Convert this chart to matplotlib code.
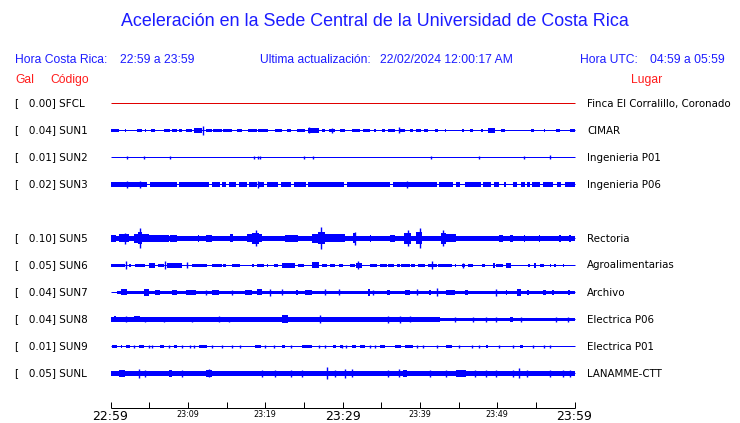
import matplotlib
matplotlib.use('Agg')
import matplotlib.pyplot as plt

# Station table
stations = ['SFCL', 'SUN1', 'SUN2', 'SUN3', 'SUN5', 'SUN6', 'SUN7', 'SUN8', 'SUN9', 'SUNL']
gal = [0.00, 0.04, 0.01, 0.02, 0.10, 0.05, 0.04, 0.04, 0.01, 0.05]
places = ['Finca El Corralillo, Coronado', 'CIMAR', 'Ingenieria P01', 'Ingenieria P06',
          'Rectoria', 'Agroalimentarias', 'Archivo', 'Electrica P06', 'Electrica P01', 'LANAMME-CTT']
slots = [0, 1, 2, 3, 5, 6, 7, 8, 9, 10]   # row slot (SUN4 missing)

# Time axis (minutes after 22:59)
tick_minutes = list(range(0, 61, 5))
label_minutes = [0, 10, 20, 30, 40, 50, 60]
label_text = ['22:59', '23:09', '23:19', '23:29', '23:39', '23:49', '23:59']

# Trace envelopes: (start min, end min, half amplitude)
base_amp = {'SUN5': 2.6, 'SUN7': 1.5, 'SUNL': 2.7}

sun1_bursts = [(0, 1.1, 1.8), (1.9, 2.0, 1.5), (3.4, 4.1, 1.8), (4.5, 4.6, 1.5), (5.2, 5.8, 1.8),
               (6.9, 7.7, 1.6), (8.0, 8.6, 1.8), (8.8, 9.2, 1.5), (9.7, 10.6, 1.9), (10.8, 11.8, 2.1),
               (12.3, 13.1, 1.8), (13.3, 14.4, 1.9), (14.6, 15.7, 1.7), (16.3, 17.0, 1.8),
               (17.8, 18.9, 1.6), (19.1, 20.4, 1.8), (21.3, 22.2, 1.6), (22.8, 23.4, 1.5),
               (24.1, 25.2, 1.6), (25.6, 26.9, 2.1), (27.3, 27.7, 1.5), (28.2, 29.0, 1.8),
               (29.7, 30.3, 1.8), (31.2, 32.3, 1.8), (32.7, 33.6, 1.8), (34.1, 34.3, 1.5),
               (35.1, 35.5, 1.6), (35.9, 36.8, 1.8), (37.4, 38.1, 1.8), (38.7, 39.1, 1.5),
               (39.5, 40.2, 1.9), (40.6, 41.1, 1.8), (41.9, 42.4, 1.6), (43.2, 43.4, 1.8),
               (45.5, 45.7, 1.5), (46.5, 46.9, 1.6), (47.9, 48.2, 1.5), (48.8, 49.7, 2.1),
               (50.5, 51.0, 1.8), (54.4, 54.8, 1.6), (56.0, 56.2, 1.5), (57.6, 58.1, 1.8),
               (59.4, 60.0, 1.8)]
sun1_spikes = [(11.9, 4.5), (25.7, 3.0), (28.6, 2.5), (37.3, 3.0)]

sun2_bursts = []
sun2_spikes = [(2.15, 1.5), (4.3, 1.5), (7.74, 1.5), (18.6, 1.5), (19.1, 1.5), (19.35, 1.5),
               (25.0, 1.5), (26.2, 1.5), (41.4, 1.5), (47.7, 1.5), (53.5, 1.5), (56.8, 2.0)]

sun3_bursts = [(0, 4.73, 2.1), (5.16, 8.6, 2.1), (8.9, 12.7, 2.1), (13.1, 14.2, 2.1),
               (14.4, 14.9, 2.1), (15.3, 16.2, 2.1), (16.6, 17.6, 2.1), (17.85, 18.9, 2.1),
               (19.1, 19.9, 2.1), (20.2, 21.7, 2.1), (22.0, 23.4, 2.1), (23.7, 25.3, 2.1),
               (25.6, 30.2, 2.1), (30.54, 36.1, 2.1), (36.5, 42.2, 2.1), (42.5, 44.3, 2.1),
               (44.7, 45.25, 2.1), (45.9, 47.96, 2.1), (48.2, 49.25, 2.1), (49.55, 50.3, 2.1),
               (50.85, 51.2, 2.1), (52.05, 52.5, 2.1), (53.1, 53.55, 2.1), (53.8, 54.2, 2.1),
               (54.55, 55.5, 2.1), (55.9, 57.2, 2.1), (57.7, 58.3, 2.1), (58.8, 60.0, 2.1)]
sun3_spikes = [(2.15, 3.2), (3.8, 3.2), (19.1, 3.2), (38.4, 3.2)]

sun5_bursts = [(0.0, 0.65, 3.2), (1.1, 2.4, 4.0), (3.0, 3.5, 4.5), (3.5, 4.1, 6.0), (4.1, 4.95, 4.0),
               (4.95, 7.5, 3.5), (7.7, 8.6, 3.2), (11.3, 11.5, 3.2), (12.3, 13.1, 3.2),
               (15.5, 15.9, 4.0), (17.6, 18.3, 4.0), (18.3, 19.2, 5.5), (19.2, 19.6, 4.0),
               (22.6, 24.3, 3.5), (26.0, 26.8, 4.5), (26.8, 27.7, 6.0),
               (27.7, 30.3, 4.0), (31.4, 31.8, 5.0), (33.5, 33.7, 3.2), (36.1, 36.8, 3.5),
               (38.0, 38.9, 5.5), (39.5, 40.3, 6.0), (42.8, 43.4, 5.5), (43.4, 44.7, 4.0),
               (50.3, 50.75, 3.5), (51.6, 52.05, 3.2), (53.5, 53.6, 3.2), (55.4, 55.6, 3.2),
               (58.0, 58.2, 3.2), (59.3, 59.5, 3.5)]
sun5_spikes = [(1.9, 5.5), (3.8, 10.0), (18.8, 8.0), (27.2, 11.0), (31.6, 6.5),
               (38.5, 8.0), (40.0, 10.0), (43.0, 8.0)]

sun6_bursts = [(0, 1.9, 1.7), (2.4, 2.7, 1.7), (3.2, 4.5, 1.7), (5.0, 5.8, 2.2), (6.2, 6.9, 1.7),
               (7.3, 9.25, 2.2), (10.5, 12.5, 1.7), (13.1, 14.4, 1.7), (14.6, 14.9, 1.7),
               (15.7, 16.8, 1.7), (18.3, 18.5, 1.7), (18.9, 19.8, 1.7), (20.2, 20.4, 1.7),
               (21.1, 21.7, 1.7), (22.2, 23.9, 2.2), (24.3, 25.0, 1.7), (26.0, 26.9, 3.0),
               (27.3, 28.0, 1.7), (28.4, 29.0, 1.7), (29.5, 30.1, 1.7), (31.0, 31.6, 1.7),
               (31.8, 32.5, 2.2), (33.5, 34.4, 1.7), (34.8, 35.7, 1.7), (35.9, 36.6, 1.7),
               (37.0, 37.4, 1.7), (37.6, 38.7, 1.7), (38.9, 39.4, 1.7), (39.7, 40.65, 1.7),
               (41.1, 42.2, 1.7), (42.4, 44.1, 1.7), (44.5, 44.7, 1.7), (45.4, 45.8, 1.7),
               (46.2, 46.9, 1.7), (48.0, 48.4, 1.7), (49.4, 49.7, 2.5), (49.9, 50.75, 1.7),
               (51.2, 51.8, 2.5), (54.0, 54.2, 1.7), (54.8, 55.05, 2.2), (55.5, 56.1, 1.7),
               (56.8, 57.0, 1.7), (57.4, 57.6, 1.7), (58.5, 58.7, 1.7)]
sun6_spikes = [(2.06, 4.0), (7.1, 4.0), (9.85, 3.0), (32.05, 4.0), (41.6, 4.0), (45.6, 2.5)]

sun7_bursts = [(1.3, 2.15, 3.0), (4.3, 4.95, 3.5), (5.8, 6.45, 2.2), (8.0, 8.6, 2.2),
               (9.7, 11.0, 2.2), (13.1, 14.0, 2.2), (17.4, 18.3, 2.2), (18.9, 19.6, 3.0),
               (24.0, 24.2, 2.2), (25.2, 26.0, 2.2), (33.3, 33.55, 3.5), (35.7, 36.1, 2.5),
               (38.1, 38.7, 2.2), (41.2, 41.4, 2.2), (43.4, 44.5, 2.2), (45.8, 46.2, 2.5),
               (51.1, 51.3, 2.2), (52.5, 53.1, 3.5), (53.9, 54.1, 2.2), (55.9, 56.35, 2.2),
               (57.1, 57.3, 2.2), (59.1, 59.4, 2.5)]
sun7_spikes = [(12.3, 2.2), (15.7, 2.5), (20.6, 3.5), (22.2, 3.0), (27.7, 3.0), (29.5, 3.0),
               (34.0, 2.5), (39.6, 3.0), (42.2, 4.0), (49.9, 3.5)]

sun8_bursts = [(0, 42.6, 2.4), (42.6, 53.8, 1.5), (53.8, 60.0, 1.9), (0.43, 0.65, 3.0),
               (3.0, 3.87, 3.0), (9.0, 9.46, 2.8), (12.3, 12.7, 2.8), (22.2, 23.0, 4.0),
               (35.5, 40.0, 2.8), (40.9, 41.7, 2.8), (51.6, 52.05, 2.5)]
sun8_spikes = [(1.94, 3.0), (4.5, 2.8), (6.9, 2.8), (10.5, 2.8), (14.0, 3.0), (15.3, 2.8),
               (27.1, 4.0), (35.9, 3.5), (37.4, 3.5), (38.7, 3.0), (44.5, 2.5), (46.9, 2.5),
               (48.6, 2.5), (49.9, 2.5), (53.1, 2.5), (57.6, 2.5), (59.1, 2.5)]

sun9_bursts = [(0.2, 0.86, 1.4), (1.3, 1.5, 1.4), (1.94, 2.58, 1.4), (3.66, 4.3, 1.4),
               (6.45, 6.9, 1.4), (8.17, 8.6, 1.4), (11.4, 12.5, 1.4), (18.7, 19.4, 1.4),
               (22.2, 22.6, 1.4), (24.7, 26.0, 1.4), (28.8, 29.2, 1.4), (29.7, 30.1, 1.4),
               (31.2, 31.8, 1.4), (32.3, 32.9, 1.4), (34.8, 35.5, 1.4), (36.8, 37.6, 1.4),
               (38.1, 39.1, 1.4), (43.4, 44.1, 1.4), (48.6, 48.8, 1.4), (52.9, 53.3, 1.4)]
sun9_spikes = [(3.0, 1.4), (4.95, 1.4), (5.4, 1.4), (7.53, 1.4), (9.25, 1.4), (10.3, 1.4),
               (10.75, 1.4), (13.1, 1.4), (14.4, 1.4), (15.7, 1.4), (16.8, 1.4), (20.0, 1.4),
               (21.1, 1.4), (23.4, 1.4), (26.9, 1.4), (27.7, 1.4), (29.9, 1.4), (30.5, 1.4),
               (33.55, 1.4), (34.2, 1.4), (39.6, 1.4), (40.4, 1.4), (42.2, 1.4), (45.0, 1.4),
               (46.7, 1.4), (47.7, 1.4), (50.3, 1.4), (52.05, 1.4), (54.6, 1.4), (56.1, 1.4),
               (56.8, 1.4)]

sunl_bursts = [(1.1, 1.9, 3.2), (7.5, 8.0, 3.2), (12.3, 13.1, 3.5), (37.85, 38.3, 3.2),
               (44.7, 46.0, 3.2)]
sunl_spikes = [(3.66, 4.5), (4.5, 3.2), (9.25, 3.2), (12.8, 4.0), (19.6, 3.2), (21.3, 3.2),
               (23.4, 3.2), (24.7, 3.5), (28.0, 6.0), (29.0, 3.2), (30.3, 4.5), (31.2, 4.0),
               (35.9, 3.2), (37.3, 4.0), (41.3, 3.2), (43.4, 3.2), (47.1, 3.2), (48.6, 3.2),
               (49.9, 3.2), (52.05, 3.2), (52.8, 5.0), (53.8, 3.2), (56.8, 3.2), (58.5, 3.2),
               (59.4, 3.2)]

bursts = {'SUN1': sun1_bursts, 'SUN2': sun2_bursts, 'SUN3': sun3_bursts, 'SUN5': sun5_bursts,
          'SUN6': sun6_bursts, 'SUN7': sun7_bursts, 'SUN8': sun8_bursts, 'SUN9': sun9_bursts,
          'SUNL': sunl_bursts}
spikes = {'SUN1': sun1_spikes, 'SUN2': sun2_spikes, 'SUN3': sun3_spikes, 'SUN5': sun5_spikes,
          'SUN6': sun6_spikes, 'SUN7': sun7_spikes, 'SUN8': sun8_spikes, 'SUN9': sun9_spikes,
          'SUNL': sunl_spikes}

W, H = 740, 423
BLUE = '#0000ff'
TXT_BLUE = '#1c1cff'
TXT_RED = '#ff1c1c'


def px(x, y):
    return x / W, 1 - y / H


fig = plt.figure(figsize=(W / 100, H / 100), dpi=100)
fig.patch.set_facecolor('white')

# Axes in minutes (x) and pixel rows (y)
x0, x1 = 110.5, 574.5
ax = fig.add_axes([x0 / W, 0, (x1 - x0) / W, 1])
ax.set_xlim(0, 60)
ax.set_ylim(H, 0)
ax.axis('off')

row_top, row_step = 103.5, 27   # centre of a pixel row
thin = 0.72                     # one pixel

for name, slot, g, place in zip(stations, slots, gal, places):
    y = row_top + row_step * slot
    if name == 'SFCL':
        ax.hlines(y, 0, 60, color='#e00000', lw=thin, clip_on=False)
    else:
        ax.hlines(y, 0, 60, color=BLUE, lw=thin, clip_on=False)
        if name in base_amp:
            b = base_amp[name]
            start = 0.8 if name == 'SUN7' else 0
            ax.fill_between([start, 60], y - b, y + b, color=BLUE, lw=0)
        for t0, t1, a in bursts[name]:
            ax.bar(t0, 2 * a, width=t1 - t0, bottom=y - a, align='edge', color=BLUE,
                   linewidth=0)
        for t, a in spikes[name]:
            ax.vlines(t, y - a, y + a, color=BLUE, lw=1.0)

    fig.text(*px(15, y), f'[   {g:.2f}] {name}', fontsize=7.5, va='center', ha='left',
             family='DejaVu Sans', color='black')
    fig.text(*px(587, y), place, fontsize=7.4, va='center', ha='left',
             family='DejaVu Sans', color='black')

# Time axis at the bottom
axis_y = 408.5
ax.hlines(axis_y, 0, 60, color='black', lw=thin, clip_on=False)
ax.vlines(tick_minutes, axis_y - 6.5, axis_y, color='black', lw=thin, clip_on=False)
for m, lab in zip(label_minutes, label_text):
    big = m in (0, 30, 60)
    ax.text(m, 416 if big else 414.5, lab, ha='center', va='center',
            fontsize=9 if big else 5.8, family='DejaVu Sans', clip_on=False)

# Header texts
hdr = dict(va='center', fontsize=8.7, family='Liberation Sans')
fig.text(*px(375, 22), 'Aceleración en la Sede Central de la Universidad de Costa Rica',
         ha='center', va='center', fontsize=12.9, family='Liberation Sans', color=TXT_BLUE)
fig.text(*px(15, 60), 'Hora Costa Rica:', ha='left', color=TXT_BLUE, **hdr)
fig.text(*px(120, 60), '22:59 a 23:59', ha='left', color=TXT_BLUE, **hdr)
fig.text(*px(260, 60), 'Ultima actualización:', ha='left', color=TXT_BLUE, **hdr)
fig.text(*px(380, 60), '22/02/2024 12:00:17 AM', ha='left', color=TXT_BLUE, **hdr)
fig.text(*px(580, 60), 'Hora UTC:', ha='left', color=TXT_BLUE, **hdr)
fig.text(*px(725, 60), '04:59 a 05:59', ha='right', color=TXT_BLUE, **hdr)
fig.text(*px(15, 80), 'Gal', ha='left', color=TXT_RED, **hdr)
fig.text(*px(50, 80), 'Código', ha='left', color=TXT_RED, **hdr)
fig.text(*px(662, 80), 'Lugar', ha='right', color=TXT_RED, **hdr)

fig.savefig('out.png', dpi=100, facecolor='white')
